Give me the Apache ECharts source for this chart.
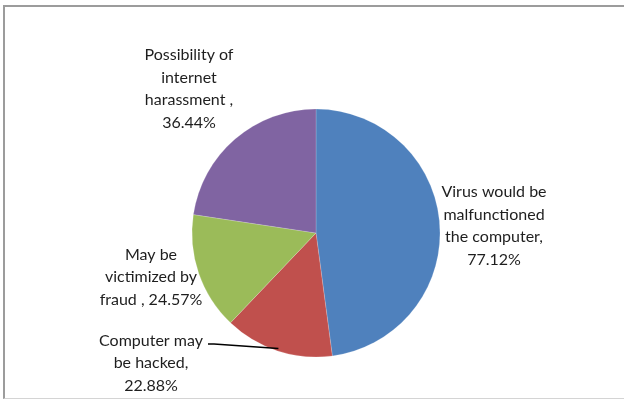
<!DOCTYPE html>
<html>
<head>
<meta charset="utf-8">
<style>
  html, body { margin: 0; padding: 0; background: #ffffff; }
  #frame {
    position: absolute; left: 3px; top: 5px; width: 640px; height: 391px;
    border-top: 2px solid #9c9c9c; border-left: 2px solid #9c9c9c;
    border-bottom: 1px solid #d4d4d4; box-sizing: content-box;
  }
  #chart { position: absolute; left: 0; top: 0; width: 624px; height: 401px; }
</style>
<script src="https://cdn.jsdelivr.net/npm/echarts@6/dist/echarts.min.js"></script>
</head>
<body>
<div id="frame"></div>
<div id="chart"></div>
<script>
// Survey answers: perceived risks of using the computer / internet (%)
var categories = [
  'Virus would be\nmalfunctioned\nthe computer',
  'Computer may\nbe hacked',
  'May be\nvictimized by\nfraud ',
  'Possibility of\ninternet\nharassment '
];
var separators = [',\n', ',\n', ', ', ',\n'];
var values = [77.12, 22.88, 24.57, 36.44];
var colors = ['#4F81BD', '#C0504D', '#9BBB59', '#8064A2'];

// centre of each text block in the canvas
var labelCenters = [[494, 226], [151, 363], [151, 277], [189, 89]];
// which slice gets a leader line, and where it leaves the text block
var leaderIndex = 1;
var leaderStartOffset = [57, -19];

var CENTER = [316, 233];
var RADIUS = 124;

var chart = echarts.init(document.getElementById('chart'), null, { renderer: 'canvas' });

var data = values.map(function (v, i) {
  return { name: categories[i], value: v, itemStyle: { color: colors[i] } };
});

// leader line: from the label to the middle of its slice's outer edge
var total = values.reduce(function (a, b) { return a + b; }, 0);
var before = 0;
for (var k = 0; k < leaderIndex; k++) before += values[k];
var midAngle = (before + values[leaderIndex] / 2) / total * 2 * Math.PI; // clockwise from 12 o'clock
var leaderEnd = [
  CENTER[0] + Math.sin(midAngle) * RADIUS * 0.98,
  CENTER[1] - Math.cos(midAngle) * RADIUS * 0.98
];
var lc = labelCenters[leaderIndex];
var leaderStart = [lc[0] + leaderStartOffset[0], lc[1] + leaderStartOffset[1]];

chart.setOption({
  animation: false,
  graphic: [{
    type: 'polyline',
    z: 10,
    shape: { points: [leaderStart, [leaderStart[0] + 6, leaderStart[1]], leaderEnd] },
    style: { stroke: '#000000', lineWidth: 1.4, fill: null }
  }],
  series: [{
    type: 'pie',
    center: CENTER,
    radius: RADIUS,
    startAngle: 90,
    clockwise: true,
    data: data,
    itemStyle: { borderColor: 'rgba(255,255,255,0.35)', borderWidth: 0.5 },
    label: {
      show: true,
      position: 'outside',
      fontFamily: 'Lato, "Open Sans", sans-serif',
      fontSize: 16,
      lineHeight: 22.5,
      color: '#1e1e1e',
      align: 'center',
      formatter: function (p) {
        return p.name + separators[p.dataIndex] + p.value.toFixed(2) + '%';
      }
    },
    labelLine: { show: false },
    labelLayout: function (p) {
      var c = labelCenters[p.dataIndex];
      return { x: c[0], y: c[1], align: 'center', verticalAlign: 'middle' };
    },
    emphasis: { disabled: true }
  }]
});
</script>
</body>
</html>
